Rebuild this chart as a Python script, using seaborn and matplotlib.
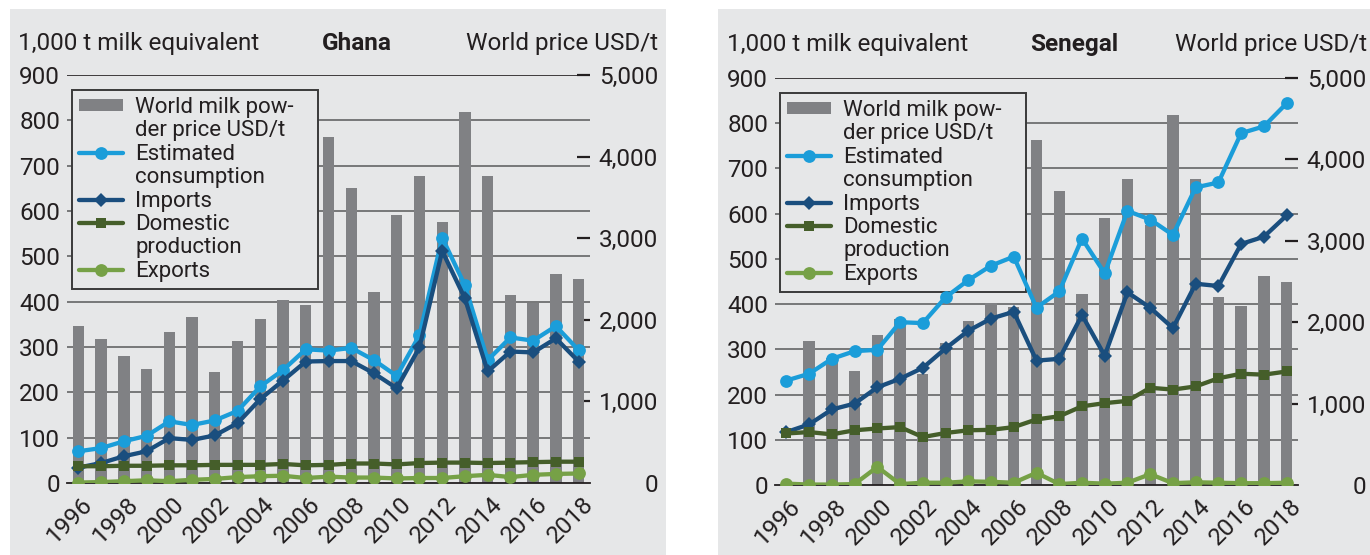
import numpy as np
import pandas as pd
import matplotlib
matplotlib.use("Agg")
import matplotlib.pyplot as plt
import matplotlib.transforms as mtransforms
from matplotlib.patches import Rectangle, Patch
from matplotlib.lines import Line2D
from matplotlib.ticker import FixedLocator, FuncFormatter
import seaborn as sns

# ---------------- data ----------------
years = list(range(1996, 2019))
year_labels = [str(y) for y in range(1996, 2019, 2)]

# world milk powder price, USD/t
world_price = [1920, 1770, 1555, 1400, 1845, 2040, 1360, 1745, 2015, 2240, 2185,
               4240, 3610, 2345, 3280, 3760, 3195, 4545, 3760, 2310, 2200, 2565, 2495]
# (Senegal panel shows no bar for 1996)
senegal_world_price = [np.nan, 1770, 1555, 1400, 1845, 2040, 1360, 1745, 2015, 2240, 2185,
                       4240, 3610, 2345, 3280, 3760, 3195, 4545, 3760, 2310, 2200, 2565, 2495]

# 1,000 t milk equivalent
ghana_consumption = [70, 77, 92, 104, 136, 128, 138, 159, 213, 249, 295, 292,
                     298, 271, 236, 326, 541, 436, 271, 321, 314, 346, 293]
ghana_imports = [34, 44, 59, 70, 99, 95, 105, 132, 185, 226, 268, 269,
                 269, 242, 209, 299, 512, 407, 246, 290, 288, 319, 268]
ghana_domestic = [37, 37, 38, 38, 39, 39, 40, 40, 40, 42, 39, 40,
                  43, 43, 41, 44, 45, 45, 44, 45, 46, 47, 47]
ghana_exports = [1, 2, 4, 6, 4, 7, 9, 13, 15, 16, 11, 14,
                 12, 12, 10, 11, 11, 15, 18, 13, 18, 20, 21]

senegal_consumption = [231, 246, 279, 296, 299, 360, 358, 415, 453, 485, 505, 392,
                       428, 545, 468, 606, 587, 553, 658, 669, 778, 793, 844]
senegal_imports = [117, 134, 167, 180, 216, 235, 259, 302, 341, 368, 383, 275,
                   279, 376, 286, 426, 392, 347, 445, 440, 533, 549, 596]
senegal_domestic = [114, 117, 112, 121, 125, 128, 106, 115, 121, 122, 128, 145,
                    152, 174, 181, 186, 215, 211, 218, 236, 246, 244, 251]
senegal_exports = [3, 1, 1, 2, 40, 2, 5, 5, 8, 7, 5, 27,
                   2, 5, 3, 5, 24, 4, 6, 5, 4, 4, 5]

series_names = ["Estimated\nconsumption", "Imports", "Domestic\nproduction", "Exports"]
bar_name = "World milk pow-\nder price USD/t"
left_title = "1,000 t milk equivalent"
right_title = "World price USD/t"

# ---------------- style ----------------
sns.set_style("white")
plt.rcParams["font.family"] = ["Roboto", "DejaVu Sans"]

W, H = 1370, 555
fig = plt.figure(figsize=(W / 100, H / 100), dpi=100)
fig.patch.set_facecolor("white")

PANEL = "#e6e7e8"
BAR = "#808184"
C_CONS = "#1b9dd9"
C_IMP = "#1a4e7e"
C_DOM = "#455e2a"
C_EXP = "#76a146"
TXT = "#231f20"
FS = 17.5
LFS = 16.0
LW = 3.1

styles = [
    dict(color=C_CONS, marker="o", ms=9.2),
    dict(color=C_IMP, marker="D", ms=7.3),
    dict(color=C_DOM, marker="s", ms=7.8),
    dict(color=C_EXP, marker="o", ms=9.2),
]


def fx(px):
    return px / W


def fy(py):
    return 1 - py / H


all_axes = []


def panel(px0, px1, ax_left, ax_right, ax_bottom, ax_top, country, price, series,
          left_x, title_x, right_x, base_y):
    fig.patches.append(Rectangle((fx(px0), 0), fx(px1) - fx(px0), fy(9),
                                 transform=fig.transFigure, facecolor=PANEL,
                                 edgecolor="none", zorder=-10))
    ax = fig.add_axes([fx(ax_left), fy(ax_bottom), fx(ax_right) - fx(ax_left),
                       fy(ax_top) - fy(ax_bottom)])
    ax2 = ax.twinx()
    ax.set_zorder(ax2.get_zorder() + 1)
    ax.set_facecolor("none")
    ax2.set_facecolor("none")

    # bars (price, right axis)
    dfb = pd.DataFrame({"year": years, "price": price})
    sns.barplot(data=dfb, x="year", y="price", ax=ax2, native_scale=True,
                width=0.5, color=BAR, saturation=1, errorbar=None,
                edgecolor="none", linewidth=0, zorder=2)
    # gridlines behind bars, in left-axis units
    ax2.hlines(np.arange(100, 900, 100), 0, 1, transform=ax.get_yaxis_transform(),
               colors="#58595b", linewidth=1.1, zorder=1)
    ax2.hlines([900], 0, 1, transform=ax.get_yaxis_transform(),
               colors="#231f20", linewidth=1.2, zorder=1)

    # lines (left axis)
    for vals, st in zip(series, styles):
        sns.lineplot(x=years, y=vals, ax=ax, color=st["color"], marker=st["marker"],
                     markersize=st["ms"], markeredgewidth=0, linewidth=LW,
                     legend=False, zorder=6)

    ax.set_xlim(1995.5, 2018.5)
    ax.set_ylim(0, 900)
    ax2.set_ylim(0, 5000)
    ax.set_xlabel("")
    ax.set_ylabel("")
    ax2.set_xlabel("")
    ax2.set_ylabel("")

    for s in ["left", "top", "right"]:
        ax.spines[s].set_visible(False)
    for s in ax2.spines.values():
        s.set_visible(False)
    ax.spines["bottom"].set_color("#231f20")
    ax.spines["bottom"].set_linewidth(1.3)

    # x ticks
    ax.set_xticks([int(y) for y in year_labels])
    ax.set_xticklabels(year_labels)
    ax.set_xticks(np.arange(1995.5, 2019, 1.0), minor=True)
    ax.tick_params(axis="x", which="major", length=0, pad=0, labelsize=FS,
                   labelcolor=TXT)
    ax.tick_params(axis="x", which="minor", length=5.5, width=1.2, color="#231f20",
                   direction="out")

    # left y ticks
    ax.set_yticks(np.arange(0, 901, 100))
    ax.tick_params(axis="y", which="major", length=0, pad=5, labelsize=FS,
                   labelcolor=TXT)

    # right y ticks (drawn inward)
    ax2.yaxis.set_major_locator(FixedLocator(np.arange(0, 5001, 1000)))
    ax2.yaxis.set_major_formatter(FuncFormatter(lambda v, p: f"{int(v):,}"))
    ax2.tick_params(axis="y", which="major", length=9.4, width=1.6, color="#231f20",
                    direction="in", pad=49, labelsize=FS, labelcolor=TXT)

    # legend
    blank = Line2D([], [], color="none")
    handles = [Patch(facecolor=BAR, edgecolor="none"), blank]
    labels = bar_name.split("\n")
    for st, nm in zip(styles, series_names):
        h = Line2D([], [], color=st["color"], marker=st["marker"],
                   markersize=st["ms"], markeredgewidth=0, linewidth=LW)
        parts = nm.split("\n")
        handles.append(h)
        labels.append(parts[0])
        for p in parts[1:]:
            handles.append(blank)
            labels.append(p)
    leg = ax.legend(handles, labels, loc="upper left",
                    bbox_to_anchor=(0.0096, 0.963, 0.47, 0.0),
                    mode="expand", borderaxespad=0, fontsize=LFS,
                    handlelength=2.0, handleheight=0.45, handletextpad=0.55,
                    labelspacing=0.11, borderpad=0.3, frameon=True,
                    fancybox=False, facecolor=PANEL, framealpha=1,
                    edgecolor="#3a3a3a", labelcolor=TXT)
    leg.get_frame().set_linewidth(1.4)
    leg.set_zorder(5)

    # headers
    fig.text(fx(left_x), fy(base_y), left_title, fontsize=FS, color=TXT,
             ha="left", va="baseline")
    fig.text(fx(title_x), fy(base_y), country, fontsize=FS, color=TXT,
             ha="center", va="baseline", fontweight="bold")
    fig.text(fx(right_x), fy(base_y), right_title, fontsize=FS, color=TXT,
             ha="right", va="baseline")
    all_axes.append((ax, ax2))
    return ax, ax2


panel(10, 666, 67, 590, 483, 75, "Ghana", world_price,
      [ghana_consumption, ghana_imports, ghana_domestic, ghana_exports],
      18, 357, 658, 50)
panel(718, 1370, 775, 1298, 485, 78, "Senegal", senegal_world_price,
      [senegal_consumption, senegal_imports, senegal_domestic, senegal_exports],
      727, 1074, 1367, 51)

# final tick-label placement (done last so nothing resets it)
off = mtransforms.ScaledTranslation(11 / 100, -18 / 100, fig.dpi_scale_trans)
for ax, ax2 in all_axes:
    ax2.yaxis.get_major_ticks()[0].tick2line.set_visible(False)
    for lbl in ax2.get_yticklabels():
        lbl.set_ha("right")
    for lbl in ax.get_xticklabels():
        lbl.set_rotation(45)
        lbl.set_rotation_mode("anchor")
        lbl.set_ha("right")
        lbl.set_va("center")
        lbl.set_transform(ax.get_xaxis_transform() + off)
        lbl.set_y(0)

fig.savefig("out.png", dpi=100, facecolor="white")
